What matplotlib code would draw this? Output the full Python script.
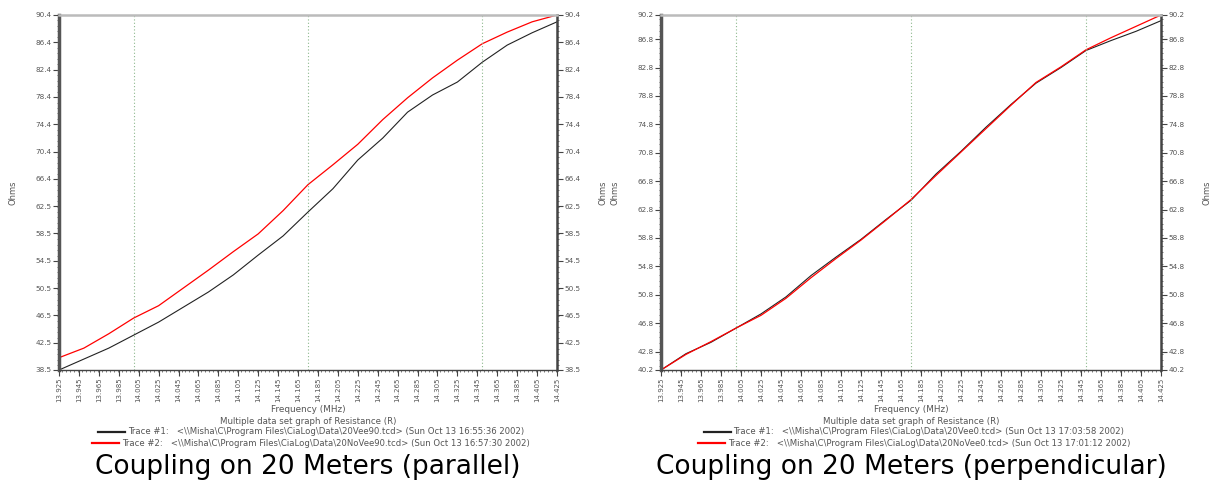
import numpy as np
import matplotlib.pyplot as plt
from matplotlib.ticker import FixedLocator, MultipleLocator

# frequency sweep points (MHz)
freq = [13.925, 13.950, 13.975, 14.000, 14.025, 14.050, 14.075, 14.100, 14.125,
        14.150, 14.175, 14.200, 14.225, 14.250, 14.275, 14.300, 14.325, 14.350,
        14.375, 14.400, 14.425]

# parallel: resistance (ohms)
par_trace1 = [38.5, 40.1, 41.7, 43.6, 45.5, 47.7, 49.9, 52.4, 55.3, 58.1, 61.6,
              65.0, 69.2, 72.4, 76.2, 78.7, 80.6, 83.5, 86.0, 87.8, 89.4]
par_trace2 = [40.3, 41.7, 43.8, 46.1, 47.9, 50.5, 53.1, 55.8, 58.4, 61.8, 65.6,
              68.5, 71.5, 75.1, 78.3, 81.2, 83.8, 86.2, 87.9, 89.4, 90.4]

# perpendicular: resistance (ohms)
perp_trace1 = [40.2, 42.5, 44.1, 46.1, 48.1, 50.5, 53.5, 56.1, 58.6, 61.4, 64.1,
               67.8, 71.0, 74.4, 77.6, 80.6, 82.8, 85.2, 86.6, 87.9, 89.4]
perp_trace2 = [40.2, 42.4, 44.2, 46.1, 47.9, 50.3, 53.2, 55.9, 58.5, 61.3, 64.2,
               67.6, 70.9, 74.2, 77.5, 80.7, 82.9, 85.3, 87.0, 88.6, 90.2]

xticks = [13.925 + 0.02 * k for k in range(26)]
band_lines = [14.000, 14.175, 14.350]

par_yticks = list(np.linspace(38.5, 90.4, 14))
perp_yticks = [40.2, 42.8, 46.8, 50.8, 54.8, 58.8, 62.8, 66.8, 70.8, 74.8,
               78.8, 82.8, 86.8, 90.2]

par_legend = [r"Trace #1:   <\\Misha\C\Program Files\CiaLog\Data\20Vee90.tcd> (Sun Oct 13 16:55:36 2002)",
              r"Trace #2:   <\\Misha\C\Program Files\CiaLog\Data\20NoVee90.tcd> (Sun Oct 13 16:57:30 2002)"]
perp_legend = [r"Trace #1:   <\\Misha\C\Program Files\CiaLog\Data\20Vee0.tcd> (Sun Oct 13 17:03:58 2002)",
               r"Trace #2:   <\\Misha\C\Program Files\CiaLog\Data\20NoVee0.tcd> (Sun Oct 13 17:01:12 2002)"]

W, H = 1211, 484
fig = plt.figure(figsize=(W / 100, H / 100), dpi=100)
tc = '#555555'


def panel(x0, x1, t1, t2, yticks, ylim, legend, caption):
    ax = fig.add_axes([x0 / W, (H - 370) / H, (x1 - x0) / W, 355 / H])
    ax.plot(freq, t1, color='#222222', lw=0.8)
    ax.plot(freq, t2, color='red', lw=0.9)
    for b in band_lines:
        ax.axvline(b, color='#8cb88c', ls=(0, (1, 2)), lw=0.8)
    ax.set_xlim(13.925, 14.425)
    ax.set_ylim(*ylim)
    ax.xaxis.set_major_locator(FixedLocator(xticks))
    ax.xaxis.set_minor_locator(MultipleLocator(0.004))
    ax.set_xticklabels(['%.3f' % v for v in xticks], rotation=90, fontsize=5, color=tc)
    ax.yaxis.set_major_locator(FixedLocator(yticks))
    ax.yaxis.set_minor_locator(MultipleLocator(0.8))
    ax.set_yticklabels(['%.1f' % v for v in yticks], fontsize=5.2, color=tc)
    ax.tick_params(which='major', length=4, width=0.8, color='#444444', pad=1.5,
                   right=True, labelright=True)
    ax.tick_params(which='minor', length=1.5, width=0.6, color='#666666', right=True)
    ax.spines['left'].set_linewidth(2.5)
    ax.spines['left'].set_color('#555555')
    ax.spines['right'].set_linewidth(1.8)
    ax.spines['right'].set_color('#444444')
    ax.spines['bottom'].set_linewidth(1.0)
    ax.spines['bottom'].set_color('#444444')
    ax.spines['top'].set_linewidth(1.8)
    ax.spines['top'].set_color('#bbbbbb')
    ax.set_ylabel('Ohms', fontsize=6, color=tc, labelpad=13)
    fig.text((x1 + 46) / W, (H - 193) / H, 'Ohms',
             rotation=90, fontsize=6, color=tc, ha='center', va='center')
    cx = (x0 + x1) / 2
    fig.text(cx / W, (H - 410) / H, 'Frequency (MHz)', fontsize=6.4, color=tc,
             ha='center', va='center')
    fig.text(cx / W, (H - 421) / H, 'Multiple data set graph of Resistance (R)',
             fontsize=6.2, color=tc, ha='center', va='center')
    for i, (s, c) in enumerate(zip(legend, ['#222222', 'red'])):
        y = (H - 432 - 11 * i) / H
        t = fig.text((cx + 18) / W, y, s, fontsize=6.1, color=tc, ha='center', va='center')
        fig.canvas.draw()
        bb = t.get_window_extent()
        fig.add_artist(plt.Line2D([(bb.x0 - 30) / W, (bb.x0 - 3) / W], [y, y],
                                  color=c, lw=1.6, transform=fig.transFigure))
    fig.text(cx / W, (H - 467) / H, caption, fontsize=19, color='black',
             ha='center', va='center')
    return ax


panel(59, 557, par_trace1, par_trace2, par_yticks, (38.5, 90.4), par_legend,
      'Coupling on 20 Meters (parallel)')
panel(661, 1161, perp_trace1, perp_trace2, perp_yticks, (40.2, 90.2), perp_legend,
      'Coupling on 20 Meters (perpendicular)')

fig.savefig('out.png', dpi=100)
